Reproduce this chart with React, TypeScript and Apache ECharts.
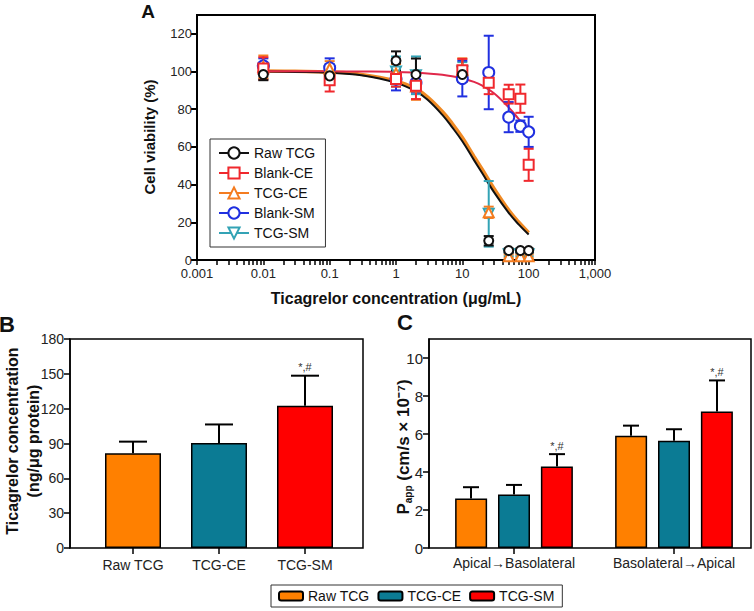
import React, { useEffect, useRef } from "react";
import * as echarts from "echarts";

// ---------- Panel A data ----------
const concX = [0.01, 0.1, 1, 2, 10, 25, 50, 75, 100];
const rawTcgMean = [98.4, 97.7, 105.7, 98.4, 98.4, 10.2, 5, 5, 5];
const rawTcgErr = [3, 3, 5, 8.5, 4, 2.5, 1, 1, 1];
const blankCeMean = [101.6, 95.4, 96, 92.4, 100.7, 94, 88, 85.6, 50.5];
const blankCeErr = [6, 6, 4, 7, 6, 6, 5, 7.5, 8.5];
const tcgCeMean = [102.5, 101.5, 99, 92, 101, 25.3, 2, 2, 2];
const tcgCeErr = [6, 4, 5, 7, 6, 3, 1, 1, 1];
const blankSmMean = [103, 102, 96, 94, 96.3, 99.5, 75.8, 71, 68];
const blankSmErr = [4, 5, 6, 5, 9.5, 19.5, 8, 3, 8];
const tcgSmMean = [100, 100, 100, 98, 100, 24.5, 3, 3, 3];
const tcgSmErr = [4, 4, 8, 10, 5, 17.4, 1, 1, 1];

const fitX = [0.01, 0.03, 0.1, 0.3, 1, 2, 3, 5, 7, 10, 15, 20, 30, 50, 70, 100];
const rawTcgFit = [100, 99.8, 99.4, 98, 94, 89.5, 85, 77, 70.5, 63, 53, 46, 36, 25, 19, 13.5];
const tcgCeFit = [100.3, 100.1, 99.7, 98.5, 95, 90.8, 86.5, 78.8, 72.5, 65, 55, 48, 38, 26.5, 20.3, 14.5];
const blankCeFit = [100.2, 100.2, 100.1, 100, 99.8, 99.4, 99, 98.3, 97.5, 96.3, 94.5, 92.5, 88.5, 81, 75, 68.5];

const xMajorTicks = [0.001, 0.01, 0.1, 1, 10, 100, 1000];
const xTickLabels = ["0.001", "0.01", "0.1", "1", "10", "100", "1,000"];

// ---------- Panel B data ----------
const bCategories = ["Raw TCG", "TCG-CE", "TCG-SM"];
const bMean = [81.5, 90.5, 122.5];
const bErr = [10.1, 15.9, 25.9];
const bSig = ["", "", "*,#"];

// ---------- Panel C data ----------
const cCategories = ["Apical→Basolateral", "Basolateral→Apical"];
const cRawMean = [2.61, 5.91];
const cRawErr = [0.59, 0.53];
const cCeMean = [2.82, 5.65];
const cCeErr = [0.5, 0.6];
const cSmMean = [4.29, 7.18];
const cSmErr = [0.65, 1.64];
const cSmSig = ["*,#", "*,#"];

const FONT = "'Liberation Sans', Arial, Helvetica, sans-serif";
const barColors = ["#ff8000", "#0b7b94", "#ff0000"];

const allXTicks: number[] = [...xMajorTicks];
[0.001, 0.01, 0.1, 1, 10, 100].forEach((d) => {
  for (let k = 2; k <= 9; k++) allXTicks.push(Number((d * k).toPrecision(3)));
});
allXTicks.sort((a, b) => a - b);

function majorLabel(v: number): string {
  for (let i = 0; i < xMajorTicks.length; i++) {
    if (Math.abs(Math.log10(v) - Math.log10(xMajorTicks[i])) < 1e-6) return xTickLabels[i];
  }
  return "";
}

function errA(name: string, color: string, means: number[], errs: number[], z: number) {
  return {
    type: "custom",
    name: name + " error",
    xAxisIndex: 0,
    yAxisIndex: 0,
    z,
    silent: true,
    data: concX.map((x, i) => [x, means[i], errs[i]]),
    renderItem: (params: any, api: any) => {
      const x = api.value(0);
      const m = api.value(1);
      const e = api.value(2);
      const lo = api.coord([x, m - e]);
      const hi = api.coord([x, m + e]);
      const w = 5;
      const st = { stroke: color, lineWidth: 2 };
      return {
        type: "group",
        children: [
          { type: "line", shape: { x1: lo[0], y1: lo[1], x2: hi[0], y2: hi[1] }, style: st },
          { type: "line", shape: { x1: lo[0] - w, y1: lo[1], x2: lo[0] + w, y2: lo[1] }, style: st },
          { type: "line", shape: { x1: hi[0] - w, y1: hi[1], x2: hi[0] + w, y2: hi[1] }, style: st },
        ],
      };
    },
  };
}

function pointsA(name: string, color: string, means: number[], symbol: string, size: number, z: number, rotate = 0) {
  return {
    type: "line",
    name,
    xAxisIndex: 0,
    yAxisIndex: 0,
    z,
    data: concX.map((x, i) => [x, means[i]]),
    symbol,
    symbolSize: size,
    symbolRotate: rotate,
    showSymbol: true,
    lineStyle: { width: 0, color },
    itemStyle: { color, borderColor: color, borderWidth: 2 },
  };
}

function fitA(name: string, color: string, ys: number[], width: number, z: number) {
  return {
    type: "line",
    name,
    xAxisIndex: 0,
    yAxisIndex: 0,
    z,
    silent: true,
    data: fitX.map((x, i) => [x, ys[i]]),
    showSymbol: false,
    symbol: "none",
    smooth: 0.4,
    lineStyle: { color, width },
  };
}

function errBar(xIdx: number, yIdx: number, means: number[], errs: number[], sig: string[], offset: number, capHalf: number) {
  return {
    type: "custom",
    xAxisIndex: xIdx,
    yAxisIndex: yIdx,
    z: 5,
    silent: true,
    data: means.map((m, i) => [i, m, errs[i]]),
    renderItem: (params: any, api: any) => {
      const i = api.value(0);
      const m = api.value(1);
      const e = api.value(2);
      const b = api.coord([i, m]);
      const t = api.coord([i, m + e]);
      const x = b[0] + offset;
      const st = { stroke: "#000", lineWidth: 2 };
      const children: any[] = [
        { type: "line", shape: { x1: x, y1: b[1], x2: x, y2: t[1] }, style: st },
        { type: "line", shape: { x1: x - capHalf, y1: t[1], x2: x + capHalf, y2: t[1] }, style: st },
      ];
      const s = sig[params.dataIndex];
      if (s) {
        children.push({
          type: "text",
          x,
          y: t[1] - 3,
          style: {
            text: s,
            align: "center",
            verticalAlign: "bottom",
            textAlign: "center",
            textVerticalAlign: "bottom",
            fontSize: 11,
            fontFamily: FONT,
            fill: "#333",
          },
        });
      }
      return { type: "group", children };
    },
  };
}

const axisLineBlack = { show: true, lineStyle: { color: "#000", width: 2 } };
const tickBlack = (len: number) => ({ show: true, length: len, lineStyle: { color: "#000", width: 2 } });

const option: any = {
  animation: false,
  backgroundColor: "#fff",
  textStyle: { fontFamily: FONT },
  grid: [
    { left: 197, top: 15, width: 398, height: 245, show: true, borderColor: "#000", borderWidth: 2, backgroundColor: "transparent" },
    { left: 70, top: 339, width: 293, height: 209, show: true, borderColor: "#000", borderWidth: 1.5, backgroundColor: "transparent" },
    { left: 90, top: 339, width: 258, height: 209 },
    { left: 429, top: 339, width: 322, height: 209, show: true, borderColor: "#000", borderWidth: 1.5, backgroundColor: "transparent" },
    { left: 434, top: 339, width: 323, height: 209 },
  ],
  xAxis: [
    {
      type: "log", logBase: 10, gridIndex: 0, min: 0.001, max: 1000, splitNumber: 6, position: "bottom",
      axisLine: axisLineBlack,
      axisTick: { show: true, customValues: allXTicks, length: 5, lineStyle: { color: "#000", width: 1.5 } },
      splitLine: { show: false },
      axisLabel: {
        fontSize: 13, color: "#222", margin: 7, fontFamily: FONT,
        customValues: xMajorTicks,
        formatter: (v: number) => majorLabel(v),
      },
    },
    { type: "value", gridIndex: 1, show: false, min: 0, max: 1 },
    {
      type: "category", gridIndex: 2, data: bCategories,
      axisLine: { show: false },
      axisTick: { show: true, alignWithLabel: true, length: 6, lineStyle: { color: "#000", width: 1.5 } },
      axisLabel: { fontSize: 14, color: "#222", margin: 10, fontFamily: FONT },
    },
    { type: "value", gridIndex: 3, show: false, min: 0, max: 1 },
    {
      type: "category", gridIndex: 4, data: cCategories,
      axisLine: { show: false },
      axisTick: { show: true, alignWithLabel: true, length: 6, lineStyle: { color: "#000", width: 1.5 } },
      axisLabel: { fontSize: 14, color: "#222", margin: 8, fontFamily: FONT },
    },
  ],
  yAxis: [
    {
      type: "value", gridIndex: 0, min: 0, max: 130, interval: 20,
      axisLine: axisLineBlack, axisTick: tickBlack(6), splitLine: { show: false },
      axisLabel: { fontSize: 13, color: "#222", margin: 5, showMaxLabel: false, fontFamily: FONT },
    },
    {
      type: "value", gridIndex: 1, min: 0, max: 180, interval: 30,
      axisLine: { show: true, lineStyle: { color: "#000", width: 1.5 } },
      axisTick: { show: true, length: 6, lineStyle: { color: "#000", width: 1.5 } },
      splitLine: { show: false },
      axisLabel: { fontSize: 14, color: "#222", margin: 6, fontFamily: FONT },
    },
    { type: "value", gridIndex: 2, min: 0, max: 180, show: false },
    {
      type: "value", gridIndex: 3, min: 0, max: 11, interval: 2,
      axisLine: { show: true, lineStyle: { color: "#000", width: 1.5 } },
      axisTick: { show: true, length: 6, lineStyle: { color: "#000", width: 1.5 } },
      splitLine: { show: false },
      axisLabel: { fontSize: 15, color: "#222", margin: 6, showMaxLabel: false, fontFamily: FONT },
    },
    { type: "value", gridIndex: 4, min: 0, max: 11, show: false },
  ],
  legend: [
    {
      left: 210, top: 139, orient: "vertical", itemWidth: 30, itemHeight: 14, itemGap: 6,
      padding: [7, 10, 7, 8], borderColor: "#333", borderWidth: 1, selectedMode: false,
      textStyle: { fontSize: 14, color: "#111", fontFamily: FONT },
      data: [
        { name: "Raw TCG", lineStyle: { color: "#111", width: 2, opacity: 1 } },
        { name: "Blank-CE", lineStyle: { color: "#f0282d", width: 2, opacity: 1 } },
        { name: "TCG-CE", lineStyle: { color: "#f47c20", width: 2, opacity: 1 } },
        { name: "Blank-SM", lineStyle: { color: "#2030e0", width: 2, opacity: 1 } },
        { name: "TCG-SM", lineStyle: { color: "#33a3b5", width: 2, opacity: 1 } },
      ],
    },
    {
      left: 271, top: 585, orient: "horizontal", itemWidth: 24, itemHeight: 9, itemGap: 8,
      padding: [4, 8, 4, 7], borderColor: "#333", borderWidth: 1, selectedMode: false,
      textStyle: { fontSize: 14, color: "#111", fontFamily: FONT },
      data: bCategories.map((c) => "bar:" + c),
      formatter: (n: string) => n.replace("bar:", ""),
    },
  ],
  graphic: [
    { type: "text", x: 148, y: 11, style: { text: "A", font: `bold 19px ${FONT}`, fill: "#111", align: "center", verticalAlign: "middle", textAlign: "center", textVerticalAlign: "middle" } },
    { type: "text", x: 7, y: 324, style: { text: "B", font: `bold 22px ${FONT}`, fill: "#111", align: "center", verticalAlign: "middle", textAlign: "center", textVerticalAlign: "middle" } },
    { type: "text", x: 405, y: 322, style: { text: "C", font: `bold 22px ${FONT}`, fill: "#111", align: "center", verticalAlign: "middle", textAlign: "center", textVerticalAlign: "middle" } },
    { type: "text", x: 149, y: 137, rotation: Math.PI / 2, style: { text: "Cell viability (%)", font: `bold 15px ${FONT}`, fill: "#111", align: "center", verticalAlign: "middle", textAlign: "center", textVerticalAlign: "middle" } },
    { type: "text", x: 396, y: 298, style: { text: "Ticagrelor concentration (μg/mL)", font: `bold 16px ${FONT}`, fill: "#111", align: "center", verticalAlign: "middle", textAlign: "center", textVerticalAlign: "middle" } },
    { type: "text", x: 23, y: 441, rotation: Math.PI / 2, style: { text: "Ticagrelor concentration\n(ng/μg protein)", font: `bold 16px ${FONT}`, lineHeight: 21, fill: "#111", align: "center", verticalAlign: "middle", textAlign: "center", textVerticalAlign: "middle" } },
    {
      type: "text", x: 403, y: 447, rotation: Math.PI / 2,
      style: {
        text: "{p|P}{s|app}{p| (cm/s × 10⁻⁷)}",
        align: "center", verticalAlign: "middle", textAlign: "center", textVerticalAlign: "middle",
        rich: {
          p: { fontSize: 17, fontWeight: "bold", fontFamily: FONT, fill: "#111", color: "#111", lineHeight: 20 },
          s: { fontSize: 10, fontWeight: "bold", fontFamily: FONT, fill: "#111", color: "#111", lineHeight: 20, verticalAlign: "bottom" },
        },
      },
    },
  ],
  series: [
    // Panel A fits
    fitA("TCG-CE fit", "#f08a24", tcgCeFit, 3.5, 2),
    fitA("Raw TCG fit", "#111", rawTcgFit, 2, 3),
    fitA("Blank-CE fit", "#e0284a", blankCeFit, 2, 3),
    // Panel A error bars
    errA("TCG-SM", "#33a3b5", tcgSmMean, tcgSmErr, 4),
    errA("Blank-SM", "#2030e0", blankSmMean, blankSmErr, 4),
    errA("TCG-CE", "#f47c20", tcgCeMean, tcgCeErr, 4),
    errA("Blank-CE", "#f0282d", blankCeMean, blankCeErr, 4),
    errA("Raw TCG", "#111", rawTcgMean, rawTcgErr, 4),
    // Panel A points
    pointsA("TCG-SM", "#33a3b5", tcgSmMean, "emptyTriangle", 10, 5, 180),
    pointsA("Blank-SM", "#2030e0", blankSmMean, "emptyCircle", 11, 5),
    pointsA("TCG-CE", "#f47c20", tcgCeMean, "emptyTriangle", 10, 6),
    pointsA("Blank-CE", "#f0282d", blankCeMean, "emptyRect", 10, 6),
    pointsA("Raw TCG", "#111", rawTcgMean, "emptyCircle", 9, 7),
    // Panel B bars
    ...bCategories.map((c, k) => ({
      type: "bar",
      name: "bar:" + c,
      stack: "b",
      xAxisIndex: 2,
      yAxisIndex: 2,
      barWidth: 56,
      data: bMean.map((v, i) => (i === k ? v : "-")),
      itemStyle: { color: barColors[k], borderColor: "#000", borderWidth: 1.5 },
    })),
    errBar(2, 2, bMean, bErr, bSig, 0, 14),
    // Panel C bars
    { type: "bar", name: "bar:Raw TCG", xAxisIndex: 4, yAxisIndex: 4, barWidth: 32, barGap: "34%", data: cRawMean, itemStyle: { color: barColors[0], borderColor: "#000", borderWidth: 1.5 } },
    { type: "bar", name: "bar:TCG-CE", xAxisIndex: 4, yAxisIndex: 4, barWidth: 32, barGap: "34%", data: cCeMean, itemStyle: { color: barColors[1], borderColor: "#000", borderWidth: 1.5 } },
    { type: "bar", name: "bar:TCG-SM", xAxisIndex: 4, yAxisIndex: 4, barWidth: 32, barGap: "34%", data: cSmMean, itemStyle: { color: barColors[2], borderColor: "#000", borderWidth: 1.5 } },
    errBar(4, 4, cRawMean, cRawErr, ["", ""], -43, 8),
    errBar(4, 4, cCeMean, cCeErr, ["", ""], 0, 8),
    errBar(4, 4, cSmMean, cSmErr, cSmSig, 43, 8),
  ],
};

export default function App() {
  const ref = useRef<HTMLDivElement>(null);
  useEffect(() => {
    if (!ref.current) return;
    const chart = echarts.init(ref.current, null, { renderer: "svg" });
    chart.setOption(option);
    return () => chart.dispose();
  }, []);
  return <div ref={ref} style={{ position: "absolute", left: 0, top: 0, width: 754, height: 611 }} />;
}
